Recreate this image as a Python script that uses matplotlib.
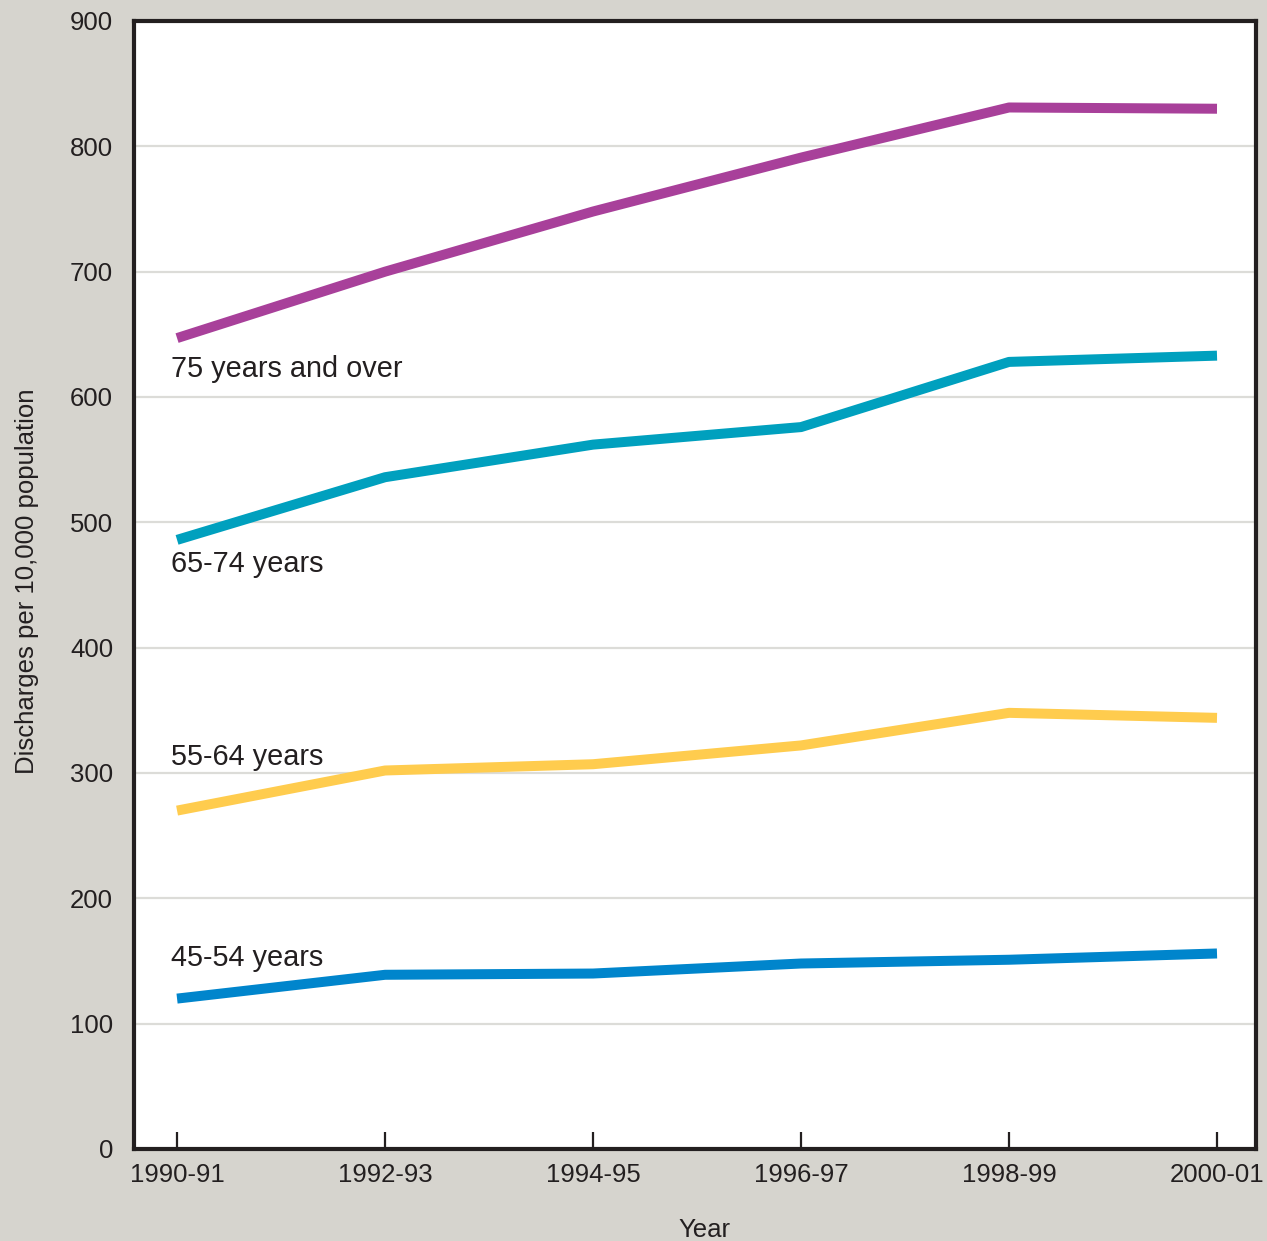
import numpy as np
import matplotlib
matplotlib.use('Agg')
import matplotlib.pyplot as plt

plt.rcParams['font.family'] = ['Liberation Sans', 'DejaVu Sans']

# Data
years = ['1990-91', '1992-93', '1994-95', '1996-97', '1998-99', '2000-01']
age_75_over = [647, 700, 748, 791, 831, 830]
age_65_74 = [486, 536, 562, 576, 628, 633]
age_55_64 = [270, 302, 307, 322, 348, 344]
age_45_54 = [120, 139, 140, 148, 151, 156]

labels = ['75 years and over', '65-74 years', '55-64 years', '45-54 years']
label_y = [622, 467, 313, 152]
colors = ['#a8409a', '#00a0be', '#ffcc4e', '#0085cc']

bg = '#d6d4ce'
ink = '#231f20'

fig = plt.figure(figsize=(12.67, 12.41), dpi=100, facecolor=bg)
ax = fig.add_axes([134 / 1267, 1 - 1149 / 1241, (1256 - 134) / 1267, (1149 - 21) / 1241])
ax.set_facecolor('white')

x = np.arange(len(years))
series = [age_75_over, age_65_74, age_55_64, age_45_54]
for vals, c in zip(series, colors):
    ax.plot(x, vals, color=c, lw=7.2, solid_capstyle='butt', zorder=3)

for lab, ly in zip(labels, label_y):
    ax.text(-0.03, ly, lab, fontsize=20.8, color=ink, va='center', ha='left', zorder=4)

ax.set_xlim(-0.207, 5.1875)
ax.set_ylim(0, 900)
ax.set_yticks(np.arange(0, 901, 100))
ax.set_xticks(x)
ax.set_xticklabels(years)
ax.grid(axis='y', color='#dcdcd8', lw=1.6, zorder=1)
ax.set_axisbelow(True)

ax.tick_params(axis='x', direction='in', length=12, width=1.6, color=ink,
               labelsize=18.5, labelcolor=ink, pad=10)
ax.tick_params(axis='y', length=0, labelsize=18.5, labelcolor=ink, pad=15)

for s in ax.spines.values():
    s.set_linewidth(3)
    s.set_color(ink)

ax.set_ylabel('Discharges per 10,000 population', fontsize=18.5, color=ink)
ax.yaxis.set_label_coords(-0.085, 0.503)
ax.set_xlabel('Year', fontsize=18.5, color=ink)
ax.xaxis.set_label_coords(0.508, -0.061)

fig.savefig('out.png', dpi=100, facecolor=bg)
